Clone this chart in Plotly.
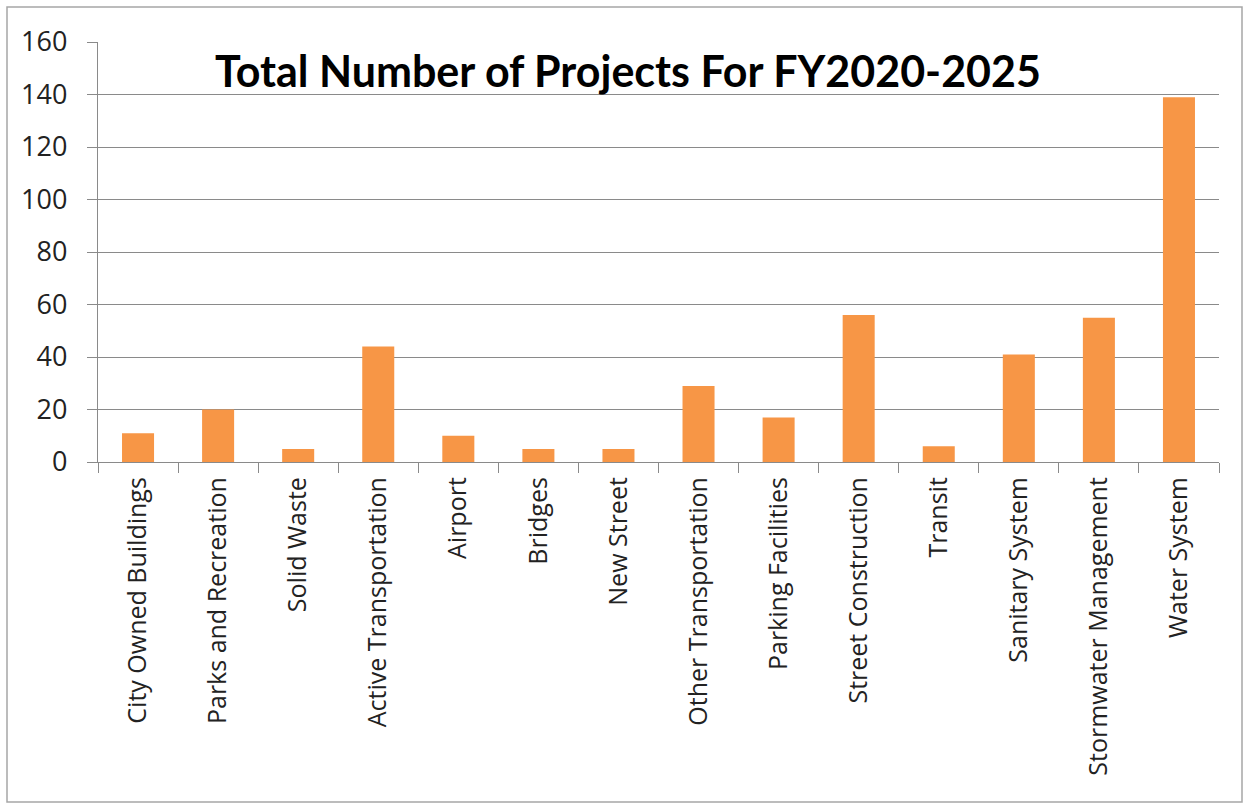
import plotly.graph_objects as go

# Capital projects by category, fiscal years 2020-2025
categories = [
    "City Owned Buildings", "Parks and Recreation", "Solid Waste",
    "Active Transportation", "Airport", "Bridges", "New Street",
    "Other Transportation", "Parking Facilities", "Street Construction",
    "Transit", "Sanitary System", "Stormwater Management", "Water System",
]
project_counts = [11, 20, 5, 44, 10, 5, 5, 29, 17, 56, 6, 41, 55, 139]
y_ticks = [0, 20, 40, 60, 80, 100, 120, 140, 160]

W, H = 1249, 805
ML, MR, MT, MB = 98, 30, 42, 343
plot_w = W - ML - MR
plot_h = H - MT - MB

fig = go.Figure(
    go.Bar(
        x=categories,
        y=project_counts,
        marker=dict(color="#F79646", line=dict(width=0)),
        width=0.4,
    )
)

GRID = "#8a8a8a"
TXT = "#222222"

fig.update_layout(
    width=W,
    height=H,
    margin=dict(l=ML, r=MR, t=MT, b=MB),
    paper_bgcolor="white",
    plot_bgcolor="white",
    showlegend=False,
    title=dict(
        text="<b>Total Number of Projects For FY2020-2025</b>",
        font=dict(family="Lato", size=43, color="black"),
        xref="container",
        yref="container",
        x=628 / W,
        y=1 - 72 / H,
        xanchor="center",
        yanchor="middle",
    ),
    xaxis=dict(
        type="category",
        tickangle=-90,
        tickson="boundaries",
        ticks="outside",
        ticklen=10,
        tickcolor=GRID,
        tickwidth=1.3,
        showline=True,
        linecolor=GRID,
        linewidth=1.3,
        showgrid=False,
        tickfont=dict(family="Open Sans", size=25, color=TXT),
        ticklabelstandoff=4,
    ),
    yaxis=dict(
        range=[0, 160],
        tickvals=y_ticks,
        ticks="outside",
        ticklen=10,
        tickcolor=GRID,
        tickwidth=1.3,
        showline=True,
        linecolor=GRID,
        linewidth=1.3,
        showgrid=True,
        gridcolor=GRID,
        gridwidth=1.3,
        zeroline=False,
        tickfont=dict(family="Open Sans", size=27, color=TXT),
        ticklabelstandoff=14,
    ),
)

# Light frame around the whole chart area
fig.add_shape(
    type="rect",
    xref="paper", yref="paper",
    x0=(7 - ML) / plot_w, x1=(1242 - ML) / plot_w,
    y0=(H - MB - 802) / plot_h, y1=(H - MB - 7) / plot_h,
    line=dict(color="#a6a6a6", width=1.5),
    fillcolor="rgba(0,0,0,0)",
    layer="below",
)

fig.write_html("out.html")
